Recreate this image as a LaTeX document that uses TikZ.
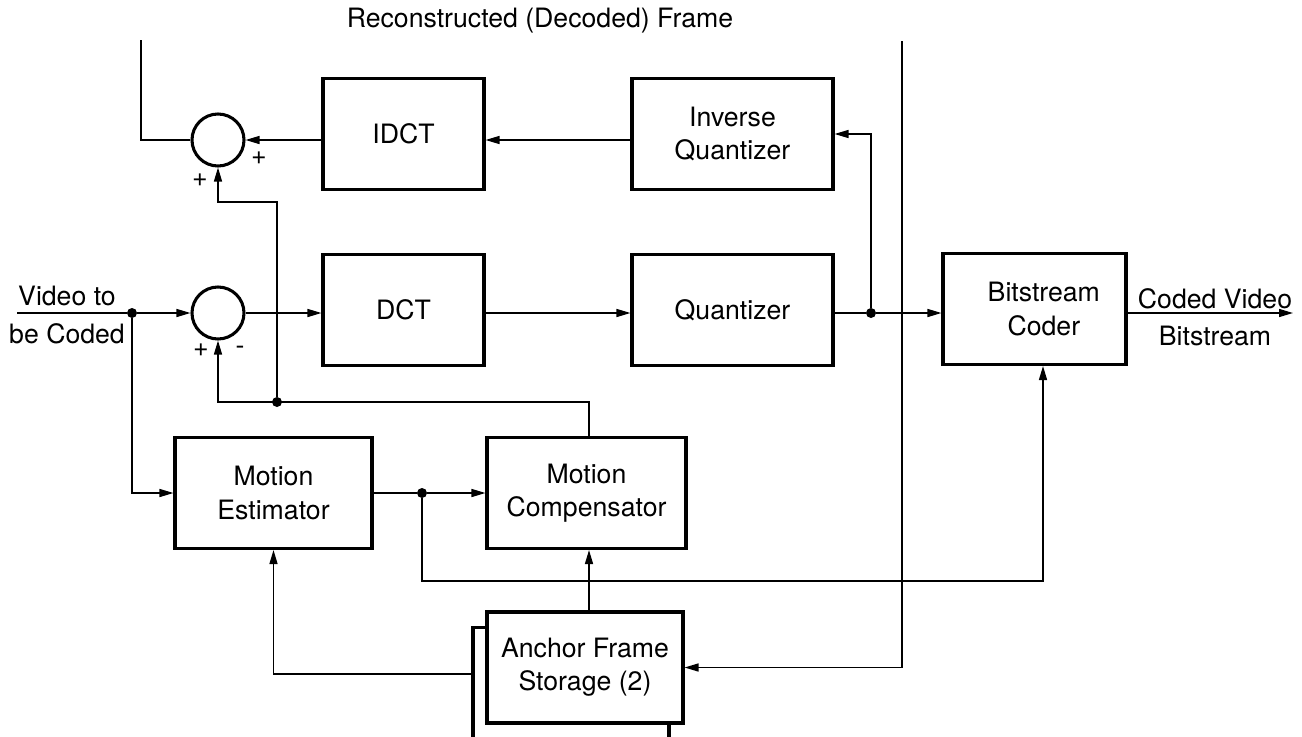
\documentclass[tikz,border=0pt]{standalone}
\usepackage{fontspec}
\setmainfont{TeX Gyre Heros}
\usetikzlibrary{arrows.meta}

\begin{document}
\begin{tikzpicture}[x=0.75pt, y=-0.75pt,
    font=\fontsize{20}{25}\selectfont,
    blk/.style={draw, line width=2.3pt, fill=white, align=center,
      minimum height=83.25pt, inner sep=2pt},
    sum/.style={draw, circle, line width=2.3pt, minimum size=39pt, inner sep=0pt},
    wire/.style={line width=1.1pt},
    arr/.style={wire, -{Triangle[length=10.5pt,width=6pt]}},
    dot/.style={circle, fill, inner sep=0pt, minimum size=7.5pt}]
  \useasboundingbox (0,0) rectangle (1302,736);
  % Sommateurs
  \node[sum] (sumt) at (218,140) {};
  \node[sum] (sumb) at (218,313) {};
  % Blocs de la boucle
  \node[blk, minimum width=120.75pt] (idct) at (403.5,134) {IDCT};
  \node[blk, minimum width=150.75pt] (iq) at (732.5,134) {Inverse\\Quantizer};
  \node[blk, minimum width=120.75pt] (dct) at (403.5,310) {DCT};
  \node[blk, minimum width=150.75pt] (quant) at (732.5,310) {Quantizer};
  \node[blk, minimum width=137.25pt] (bsc) at (1034.5,309) {\hspace*{14pt}Bitstream\\\hspace*{14pt}Coder};
  \node[blk, minimum width=147.75pt] (me) at (273.5,493) {Motion\\Estimator};
  \node[blk, minimum width=149.25pt] (mc) at (586.5,493) {Motion\\Compensator};
  % Memoire des images d'ancrage (deux cadres)
  \node[blk, minimum width=147pt, minimum height=88pt] (afsb) at (571,686) {};
  \node[blk, minimum width=147pt] (afs) at (585,667.5) {Anchor Frame\\Storage (2)};
  % Textes
  \node[align=center] (vin) at (67,315) {Video to\\[3pt]be Coded};
  \node[align=center] (vout) at (1215,317) {Coded Video\\[3pt]Bitstream};
  \node (recon) at (540,21) {Reconstructed (Decoded) Frame};
  \node (pt1) at (259,158) {+};
  \node (pt2) at (200,180) {+};
  \node (pb1) at (201,350) {+};
  \node (mb1) at (240,350) {-};
  % Points de jonction
  \node[dot] (ind) at (132,313) {};
  \node[dot] (qd) at (871,313) {};
  \node[dot] (md) at (277,402) {};
  \node[dot] (mjd) at (422,493) {};
  \coordinate (src) at (17,313);
  \coordinate (snk) at (1293,313);
  \coordinate (rtop) at (141,40);
  \coordinate (ftop) at (902,41);
  \coordinate (bsin) at (1043,581);
  % Chemin direct
  \draw[wire] (src) -- (ind);
  \draw[arr] (ind) -- (sumb);
  \draw[arr] (ind) |- (me);
  \draw[arr] (sumb) -- (dct.west |- sumb);
  \draw[arr] (dct.east |- sumb) -- (quant.west |- sumb);
  \draw[wire] (quant.east |- sumb) -- (qd);
  \draw[arr] (qd) -- (bsc.west |- sumb);
  \draw[arr] (bsc.east |- sumb) -- (snk);
  % Boucle de reconstruction
  \draw[arr] (qd) |- (iq.east);
  \draw[arr] (iq.west |- sumt) -- (idct.east |- sumt);
  \draw[arr] (idct.west |- sumt) -- (sumt);
  \draw[wire] (sumt) -| (rtop);
  \draw[arr] (ftop) |- (afs);
  % Compensation de mouvement
  \draw[arr] (mc.north -| 589,0) |- (sumb |- md) -- (sumb);
  \draw[arr] (md) -- (md |- 0,202) -| (sumt);
  \draw[wire] (me) -- (mjd);
  \draw[arr] (mjd) -- (mc);
  \draw[arr] (mjd) |- (bsin) -- (bsin |- bsc.south);
  \draw[arr] (afs.north -| 589,0) -- (mc.south -| 589,0);
  \draw[arr] (afsb.west |- 0,674) -| (me.south);
\end{tikzpicture}
\end{document}
